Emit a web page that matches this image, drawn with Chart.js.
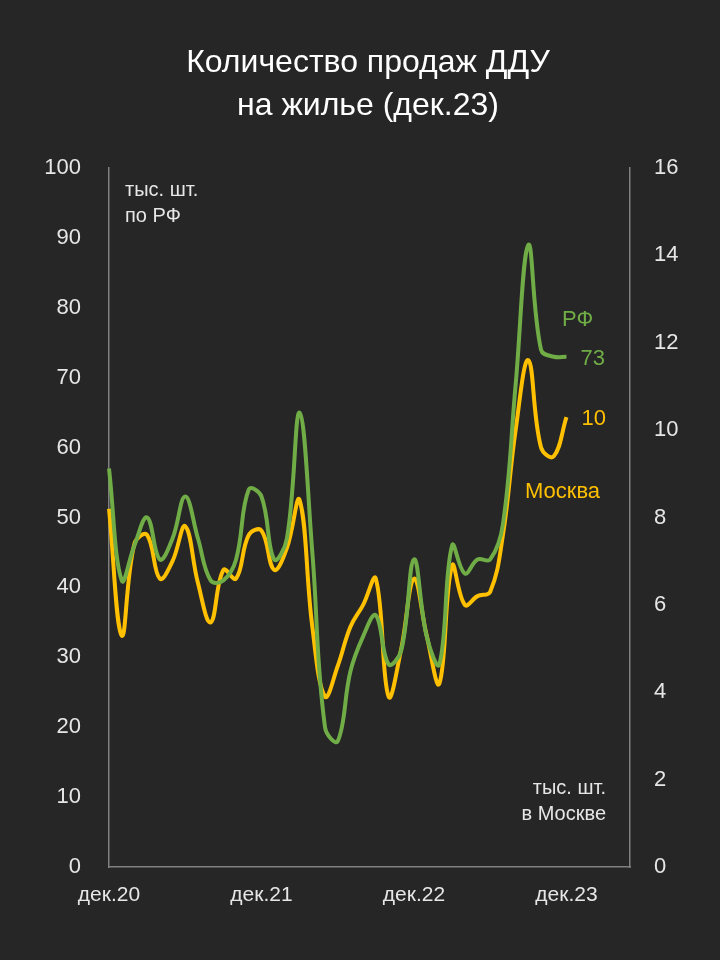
<!DOCTYPE html>
<html><head><meta charset="utf-8">
<script src="https://cdn.jsdelivr.net/npm/chart.js@4/dist/chart.umd.min.js"></script>
<style>html,body{margin:0;background:#262626}#c{display:block}</style>
</head><body>
<canvas id="c" width="720" height="960"></canvas>
<script>
// months from dec.20 to dec.23, plus empty space to the right
const months = [];
for (let i = 0; i < 42; i++) months.push('');
const tickLabels = {0: 'дек.20', 12: 'дек.21', 24: 'дек.22', 36: 'дек.23'};

const rf = [57, 41, 46, 50, 44, 47, 53, 47, 41, 41, 44, 54, 53, 44, 47, 65, 45, 20, 18, 28,
  33, 36, 29, 31, 44, 33, 29, 46, 42, 44, 44, 49, 69, 89, 74, 73, 73];
const moscow = [8.2, 5.3, 7.4, 7.6, 6.6, 7.0, 7.8, 6.5, 5.6, 6.8, 6.6, 7.6, 7.7, 6.8, 7.3, 8.4, 5.5, 3.9, 4.6, 5.5,
  6.0, 6.6, 3.9, 5.0, 6.6, 5.3, 4.2, 6.9, 6.0, 6.2, 6.3, 7.6, 10.0, 11.6, 9.6, 9.4, 10.3];

const green = '#70ad47', yellow = '#ffc000', txt = '#e6e6e6', axis = '#7f7f7f';
const font = 'Liberation Sans, Arial, sans-serif';

const labels = {
  id: 'labels',
  afterDraw(c) {
    const g = c.ctx;
    g.save();
    g.fillStyle = '#ffffff';
    g.font = '32px ' + font;
    g.textAlign = 'center';
    g.textBaseline = 'middle';
    g.fillText('Количество продаж ДДУ', 368, 63);
    g.fillText('на жилье (дек.23)', 368, 106);
    g.font = '20px ' + font;
    g.textAlign = 'left';
    g.fillStyle = txt;
    g.fillText('тыс. шт.', 125, 190);
    g.fillText('по РФ', 125, 216);
    g.textAlign = 'right';
    g.fillText('тыс. шт.', 606, 788);
    g.fillText('в Москве', 606, 814);
    const p1 = c.getDatasetMeta(0).data[rf.length - 1];
    const p2 = c.getDatasetMeta(1).data[moscow.length - 1];
    g.textAlign = 'left';
    g.font = '22px ' + font;
    g.fillStyle = green;
    g.fillText('РФ', 562, 320);
    g.fillText(String(rf[rf.length - 1]), p1.x + 14, p1.y + 2);
    g.fillStyle = yellow;
    g.fillText(String(Math.round(moscow[moscow.length - 1])), p2.x + 15, p2.y + 2);
    g.fillText('Москва', 525, 492);
    g.restore();
  }
};

new Chart(document.getElementById('c'), {
  type: 'line',
  data: {
    labels: months,
    datasets: [
      {label: 'РФ', data: rf, borderColor: green, borderWidth: 4, pointRadius: 0, tension: 0.4, yAxisID: 'y'},
      {label: 'Москва', data: moscow, borderColor: yellow, borderWidth: 4, pointRadius: 0, tension: 0.4, yAxisID: 'y1'}
    ]
  },
  options: {
    responsive: false,
    animation: false,
    layout: {padding: {top: 168}},
    plugins: {legend: {display: false}, tooltip: {enabled: false}},
    scales: {
      x: {
        grid: {display: false},
        border: {color: axis, width: 1.5},
        ticks: {
          color: txt, font: {size: 21, family: font}, autoSkip: false, maxRotation: 0,
          padding: 8,
          callback: (v, i) => tickLabels[i] || ''
        },
        afterFit: s => { s.height = 93; }
      },
      y: {
        position: 'left', min: 0, max: 100,
        grid: {display: false},
        border: {color: axis, width: 1.5},
        ticks: {stepSize: 10, color: txt, font: {size: 22, family: font}, padding: 20},
        afterFit: s => { s.width = 109; }
      },
      y1: {
        position: 'right', min: 0, max: 16,
        grid: {display: false},
        border: {color: axis, width: 1.5},
        ticks: {stepSize: 2, color: txt, font: {size: 22, family: font}, padding: 16},
        afterFit: s => { s.width = 90; }
      }
    }
  },
  plugins: [labels]
});
</script>
</body></html>
